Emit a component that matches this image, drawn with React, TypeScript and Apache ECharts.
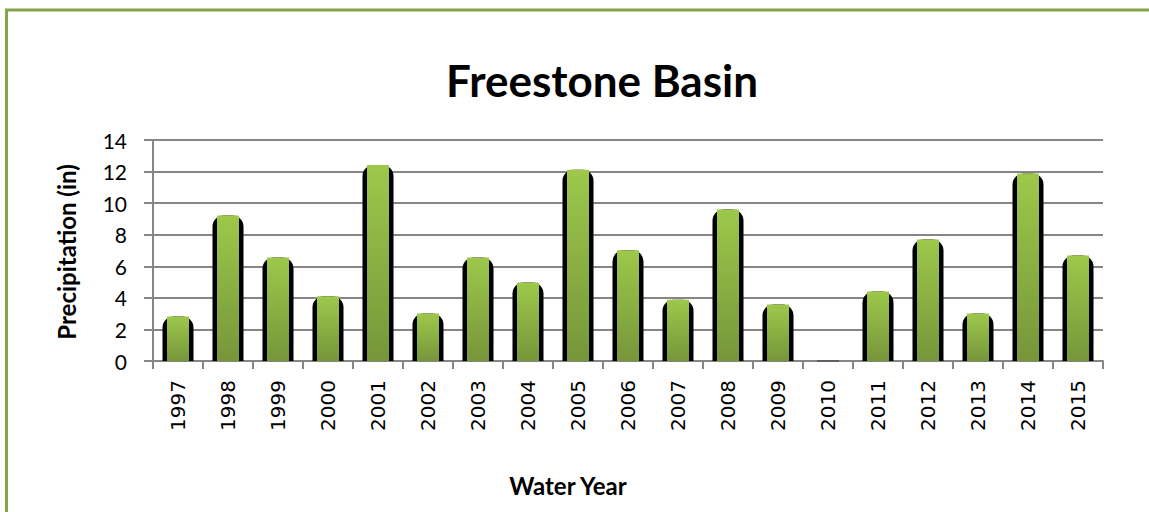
import React, { useEffect, useRef } from "react";
import * as echarts from "echarts";

const years = ["1997","1998","1999","2000","2001","2002","2003","2004","2005","2006","2007","2008","2009","2010","2011","2012","2013","2014","2015"];
const precipitation = [2.82, 9.21, 6.55, 4.1, 12.42, 3.01, 6.55, 4.97, 12.12, 7.01, 3.88, 9.59, 3.58, 0, 4.4, 7.69, 3.01, 11.87, 6.68];
const chartTitle = "Freestone Basin";
const yName = "Precipitation (in)";
const xName = "Water Year";

export default function App() {
  const ref = useRef<HTMLDivElement>(null);
  useEffect(() => {
    if (!ref.current) return;
    const chart = echarts.init(ref.current, null, { renderer: "svg" });
    const grey = "#868686";
    const blackData = precipitation.map((v) =>
      v === 0 ? { value: v, itemStyle: { borderWidth: 0 } } : v
    );
    const greenData = precipitation.map((v) =>
      v === 0 ? { value: v, itemStyle: { borderColor: "#555", borderWidth: 1.5 } } : v
    );
    chart.setOption({
      animation: false,
      backgroundColor: "#fff",
      grid: { left: 153, right: 46, top: 140, bottom: 151, containLabel: false },
      xAxis: [
        {
          type: "category",
          data: years,
          axisLine: { lineStyle: { color: grey, width: 2 } },
          axisTick: { show: true, interval: 0, length: 8, lineStyle: { color: grey, width: 2 } },
          axisLabel: {
            rotate: 90,
            interval: 0,
            margin: 19,
            fontFamily: "DejaVu Sans",
            fontSize: 20,
            color: "#000",
          },
        },
        {
          type: "category",
          data: years,
          show: false,
          position: "bottom",
        },
      ],
      yAxis: {
        type: "value",
        min: 0,
        max: 14,
        interval: 2,
        axisLine: { show: true, lineStyle: { color: grey, width: 2 } },
        axisTick: { show: true, length: 9, lineStyle: { color: grey, width: 2 } },
        splitLine: { lineStyle: { color: grey, width: 2 } },
        axisLabel: { margin: 26, fontFamily: "Lato", fontSize: 21, color: "#000" },
      },
      graphic: [
        {
          type: "rect",
          shape: { x: 6.5, y: 10, width: 1400, height: 800 },
          style: { fill: "none", stroke: "#86a347", lineWidth: 3 },
          silent: true,
        },
        {
          type: "text",
          x: 602,
          y: 80,
          style: {
            text: chartTitle,
            font: "bold 44px Lato",
            fill: "#000",
            textAlign: "center",
            textVerticalAlign: "middle",
          },
        },
        {
          type: "text",
          x: 66,
          y: 252,
          rotation: Math.PI / 2,
          style: {
            text: yName,
            font: "bold 24px Lato",
            fill: "#000",
            textAlign: "center",
            textVerticalAlign: "middle",
          },
        },
        {
          type: "text",
          x: 568,
          y: 485,
          style: {
            text: xName,
            font: "bold 24px Lato",
            fill: "#000",
            textAlign: "center",
            textVerticalAlign: "middle",
          },
        },
      ],
      series: [
        {
          type: "bar",
          xAxisIndex: 0,
          data: blackData,
          barWidth: 31,
          z: 2,
          itemStyle: {
            color: "#000",
            borderColor: "#000",
            borderWidth: 4,
            borderRadius: [9, 9, 0, 0],
          },
        },
        {
          type: "bar",
          xAxisIndex: 1,
          data: greenData,
          barWidth: 22,
          z: 3,
          itemStyle: {
            color: new echarts.graphic.LinearGradient(0, 0, 0, 1, [
              { offset: 0, color: "#9dc84b" },
              { offset: 1, color: "#76963a" },
            ]),
          },
        },
      ],
    });
    return () => chart.dispose();
  }, []);
  return (
    <div
      ref={ref}
      style={{ position: "absolute", left: 0, top: 0, width: 1149, height: 512 }}
    />
  );
}
